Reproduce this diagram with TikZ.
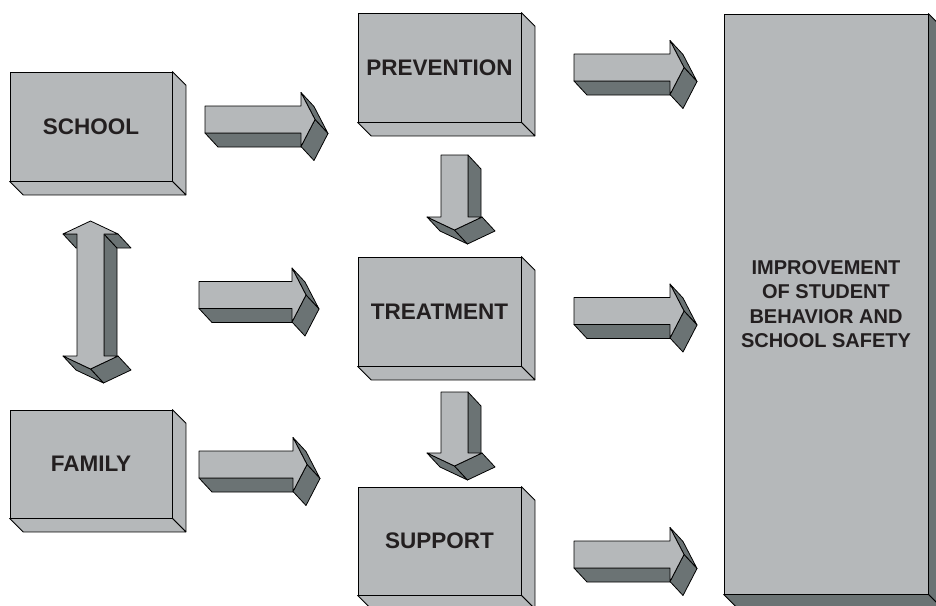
\documentclass[tikz,border=0pt]{standalone}
\usepackage{fontspec}
\setmainfont{Liberation Sans}
\definecolor{facelight}{HTML}{B5B8BA}
\definecolor{facedark}{HTML}{6B7374}
\definecolor{ink}{HTML}{231F20}
\tikzset{
  face/.style={fill=facelight, draw=black, line width=0.8pt, line join=round},
  dface/.style={fill=facedark, draw=black, line width=0.8pt, line join=round},
  boxfront/.style={face, rectangle, inner sep=0pt, text=ink, align=center,
    font=\fontsize{22.5}{26}\selectfont\bfseries},
}
% right-pointing block arrow: #1 shaft start x, #2 head back x, #3 centre y
\newcommand\rightblock[3]{%
  \draw[dface] ({#2},{#3+13.5}) -- ({#1},{#3+13.5}) -- ({#1+13},{#3+27.5}) -- ({#2+13},{#3+27.5}) -- cycle;
  \draw[dface] ({#2},{#3-27}) -- ({#2+14},{#3}) -- ({#2+27},{#3+14}) -- ({#2+13},{#3-13}) -- cycle;
  \draw[dface] ({#2+14},{#3}) -- ({#2},{#3+27}) -- ({#2+13},{#3+41}) -- ({#2+27},{#3+14}) -- cycle;
  \draw[face] ({#1},{#3-13.5}) -- ({#2},{#3-13.5}) -- ({#2},{#3-27}) -- ({#2+14},{#3}) -- ({#2},{#3+27}) -- ({#2},{#3+13.5}) -- ({#1},{#3+13.5}) -- cycle;
}
% down-pointing block arrow: #1 shaft left x, #2 shaft right x, #3 top y, #4 head base y
\newcommand\downblock[4]{%
  \draw[dface] ({#2},{#3}) -- ({#2},{#4}) -- ({#2+13},{#4+14}) -- ({#2+13},{#3+14}) -- cycle;
  \draw[dface] ({(#1+#2)/2},{#4+13}) -- ({#1-14},{#4}) -- ({#1-1},{#4+14}) -- ({(#1+#2)/2+13},{#4+27}) -- cycle;
  \draw[dface] ({#2+14},{#4}) -- ({(#1+#2)/2},{#4+13}) -- ({(#1+#2)/2+13},{#4+27}) -- ({#2+27},{#4+14}) -- cycle;
  \draw[face] ({#1},{#3}) -- ({#2},{#3}) -- ({#2},{#4}) -- ({#2+14},{#4}) -- ({(#1+#2)/2},{#4+13}) -- ({#1-14},{#4}) -- ({#1},{#4}) -- cycle;
}
% 3D box sides: #1 node name, #2 style
\newcommand\boxsides[2]{%
  \draw[#2] (#1.north east) -- ++(13.5,13.5) -- ([shift={(13.5,13.5)}]#1.south east) -- (#1.south east) -- cycle;
  \draw[#2] (#1.south west) -- ++(13.5,13.5) -- ([shift={(13.5,13.5)}]#1.south east) -- (#1.south east) -- cycle;
}
\begin{document}
\begin{tikzpicture}[x=1pt, y={(0pt,-1pt)}]
\useasboundingbox (0,0) rectangle (936,605);
\clip (0,0) rectangle (936,605);

% boxes
\node[boxfront, minimum width=162pt, minimum height=109pt] (school) at (91,126.5) {SCHOOL};
\node[boxfront, minimum width=163pt, minimum height=109pt] (prevention) at (439.5,67.5) {PREVENTION};
\node[boxfront, minimum width=163pt, minimum height=109pt] (treatment) at (439.5,311.5) {TREATMENT};
\node[boxfront, minimum width=163pt, minimum height=108pt] (support) at (439.5,541) {SUPPORT};
\node[boxfront, minimum width=162pt, minimum height=108pt] (family) at (91,464) {FAMILY};
\node[boxfront, minimum width=204pt, minimum height=580pt,
      font=\fontsize{20}{24.5}\selectfont\bfseries] (goal) at (826,304)
      {IMPROVEMENT\\OF STUDENT\\BEHAVIOR AND\\SCHOOL SAFETY};
\boxsides{school}{face}
\boxsides{prevention}{face}
\boxsides{treatment}{face}
\boxsides{support}{face}
\boxsides{family}{face}
\boxsides{goal}{dface}

% right arrows
\rightblock{205}{301}{119.5}
\rightblock{574}{670}{67.5}
\rightblock{199}{292}{295}
\rightblock{574}{670}{311}
\rightblock{199}{293}{464.5}
\rightblock{574}{670}{554.5}

% down arrows
\downblock{441}{468}{155}{217}
\downblock{441}{468}{392}{453}

% double arrow school <-> family
\draw[dface] (104,234) -- (104,356) -- (117,370) -- (117,248) -- cycle;
\draw[dface] (118,234) -- (104,234) -- (117,248) -- (131,248) -- cycle;
\draw[dface] (77,234) -- (63,234) -- (76,248) -- (90,248) -- cycle;
\draw[dface] (118,356) -- (90.5,369) -- (103.5,383) -- (131,370) -- cycle;
\draw[dface] (90.5,369) -- (63,356) -- (76,370) -- (103.5,383) -- cycle;
\draw[face] (90.5,221) -- (118,234) -- (104,234) -- (104,356) -- (118,356) -- (90.5,369)
  -- (63,356) -- (77,356) -- (77,234) -- (63,234) -- cycle;
\end{tikzpicture}
\end{document}
